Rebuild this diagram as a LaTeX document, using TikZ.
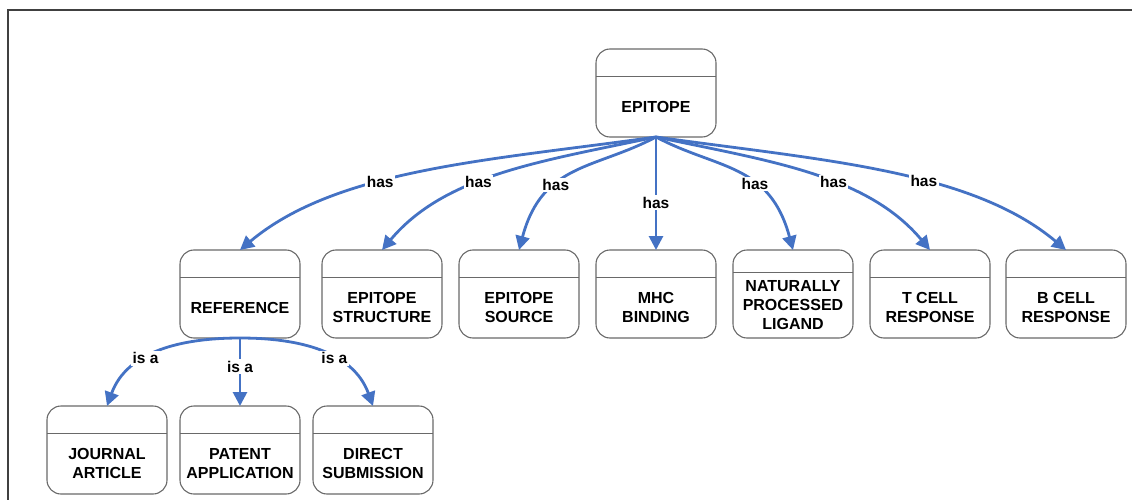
\documentclass[tikz,border=0pt]{standalone}
\usepackage{fontspec}
\setmainfont{Liberation Sans}
\usetikzlibrary{arrows.meta}
\definecolor{relblue}{RGB}{68,114,196}
\definecolor{boxgray}{RGB}{105,105,105}
\tikzset{
  cls/.style={minimum width=112pt, minimum height=60pt, inner xsep=2pt, inner ysep=8pt,
    align=center, anchor=south, font=\bfseries\fontsize{16}{19}\selectfont,
    append after command={\pgfextra{
      \draw[boxgray, line width=1.1pt, rounded corners=14pt]
        ([xshift=-60pt]\tikzlastnode.south) rectangle ([xshift=60pt,yshift=88pt]\tikzlastnode.south);
      \draw[boxgray, line width=1.1pt]
        ([xshift=-60pt]\tikzlastnode.north) -- ([xshift=60pt]\tikzlastnode.north);}}},
  rel/.style={-{Triangle[length=14pt,width=14pt]}, relblue, line width=2.8pt},
  lbl/.style={fill=white, inner sep=1.5pt, text=black, font=\bfseries\fontsize{15.5}{19}\selectfont}
}
\begin{document}
\begin{tikzpicture}[x=1pt,y=1pt]
    \useasboundingbox (0,0) rectangle (1132,-500);
    \clip (0,0) rectangle (1132,-500);
    % 外框
    \draw[line width=1.8pt, black!75] (8,-520) -- (8,-10) -- (1150,-10);

    % 类
    \node[cls] (epi) at (656,-137) {EPITOPE};
    \node[cls] (ref) at (240,-338) {REFERENCE};
    \node[cls] (est) at (382,-338) {EPITOPE\\STRUCTURE};
    \node[cls] (esrc) at (519,-338) {EPITOPE\\SOURCE};
    \node[cls] (mhc) at (656,-338) {MHC\\BINDING};
    \node[cls] (npl) at (793,-338) {NATURALLY\\PROCESSED\\LIGAND};
    \node[cls] (tcr) at (930,-338) {T CELL\\RESPONSE};
    \node[cls] (bcr) at (1066,-338) {B CELL\\RESPONSE};
    \node[cls] (jart) at (107,-494) {JOURNAL\\ARTICLE};
    \node[cls] (papp) at (240,-494) {PATENT\\APPLICATION};
    \node[cls] (dsub) at (373,-494) {DIRECT\\SUBMISSION};

    % has
    \draw[rel] (epi.south) to[out=188,in=40,in looseness=.75] node[lbl,pos=.6] {has} ([yshift=88pt]ref.south);
    \draw[rel] (epi.south) to[out=192,in=50,in looseness=.85] node[lbl,pos=.58] {has} ([yshift=88pt]est.south);
    \draw[rel] (epi.south) to[out=208,in=75,in looseness=1.3] node[lbl,pos=.63] {has} ([yshift=88pt]esrc.south);
    \draw[rel] (epi.south) -- node[lbl,pos=.58] {has} ([yshift=88pt]mhc.south);
    \draw[rel] (epi.south) to[out=332,in=105,in looseness=1.3] node[lbl,pos=.62] {has} ([yshift=88pt]npl.south);
    \draw[rel] (epi.south) to[out=348,in=130,in looseness=.85] node[lbl,pos=.58] {has} ([yshift=88pt]tcr.south);
    \draw[rel] (epi.south) to[out=352,in=140,in looseness=.75] node[lbl,pos=.59] {has} ([yshift=88pt]bcr.south);

    % is a
    \draw[rel] (ref.south) to[out=180,in=70] node[lbl,pos=.6] {is a} ([yshift=88pt]jart.south);
    \draw[rel] (ref.south) -- node[lbl,pos=.42] {is a} ([yshift=88pt]papp.south);
    \draw[rel] (ref.south) to[out=0,in=110] node[lbl,pos=.6] {is a} ([yshift=88pt]dsub.south);
\end{tikzpicture}
\end{document}
